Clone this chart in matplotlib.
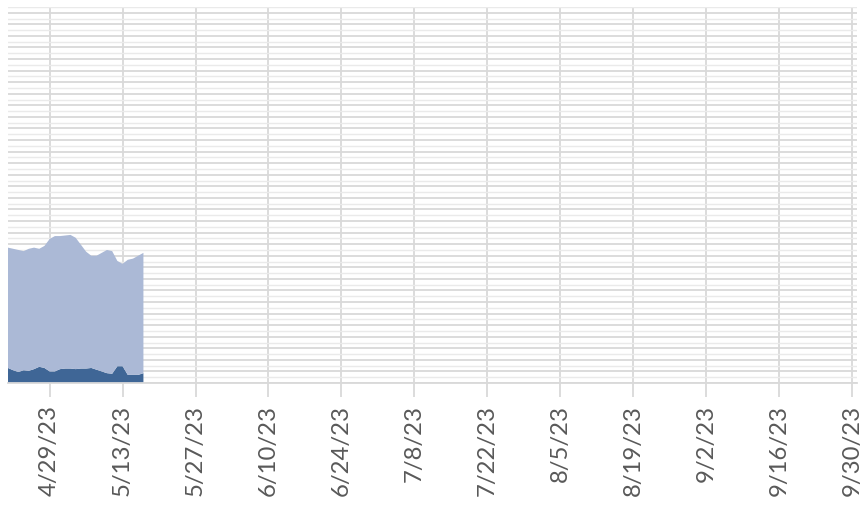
import datetime as dt
import matplotlib
matplotlib.use('Agg')
import matplotlib.pyplot as plt
from matplotlib.ticker import MultipleLocator

# daily values (4/21/23 - 5/17/23)
start = dt.date(2023, 4, 21)
dates = [start + dt.timedelta(days=i) for i in range(27)]
dark_vals = [2.6, 2.2, 1.9, 2.2, 2.1, 2.4, 2.8, 2.6, 2.0, 2.0, 2.4, 2.5, 2.5, 2.4,
             2.5, 2.5, 2.6, 2.3, 2.0, 1.7, 1.6, 2.9, 2.9, 1.4, 1.4, 1.4, 1.7]
total_vals = [23.4, 23.2, 23.0, 22.8, 23.2, 23.4, 23.2, 23.7, 24.9, 25.4, 25.4, 25.5, 25.6, 25.1,
              23.9, 22.7, 22.0, 22.0, 22.5, 23.0, 22.8, 21.1, 20.6, 21.3, 21.5, 22.0, 22.5]
light_vals = [t - d for t, d in zip(total_vals, dark_vals)]

tick_dates = [dt.date(2023, 4, 29) + dt.timedelta(days=14 * i) for i in range(12)]
tick_labels = [f'{d.month}/{d.day}/{d.year % 100}' for d in tick_dates]

fig = plt.figure(figsize=(8.66, 5.15), dpi=100)
ax = fig.add_axes([8 / 866, 132 / 515, 849 / 866, 376 / 515])

ax.stackplot(dates, dark_vals, light_vals, colors=['#3F6696', '#ABB9D6'], linewidth=0)

ax.set_xlim(dt.date(2023, 4, 21), dt.date(2023, 10, 1))
ax.set_ylim(0, 65)

ax.yaxis.set_major_locator(MultipleLocator(2))
ax.yaxis.set_minor_locator(MultipleLocator(1))
ax.grid(axis='y', which='major', color='#D9D9D9', lw=1.3, zorder=0)
ax.grid(axis='y', which='minor', color='#EAEAEA', lw=1.0, zorder=0)
ax.set_yticklabels([])
ax.tick_params(axis='y', which='both', length=0)

ax.set_xticks(tick_dates)
ax.set_xticklabels(tick_labels, rotation=90, fontsize=17.2, color='#595959', family='Lato')
ax.grid(axis='x', color='#D9D9D9', lw=1.3, zorder=0)
ax.tick_params(axis='x', length=10, width=1.3, color='#D9D9D9', pad=6)
ax.set_axisbelow(True)

for s in ['top', 'right', 'left']:
    ax.spines[s].set_visible(False)
ax.spines['bottom'].set_color('#D9D9D9')
ax.spines['bottom'].set_linewidth(1.3)

fig.savefig('out.png', dpi=100)
